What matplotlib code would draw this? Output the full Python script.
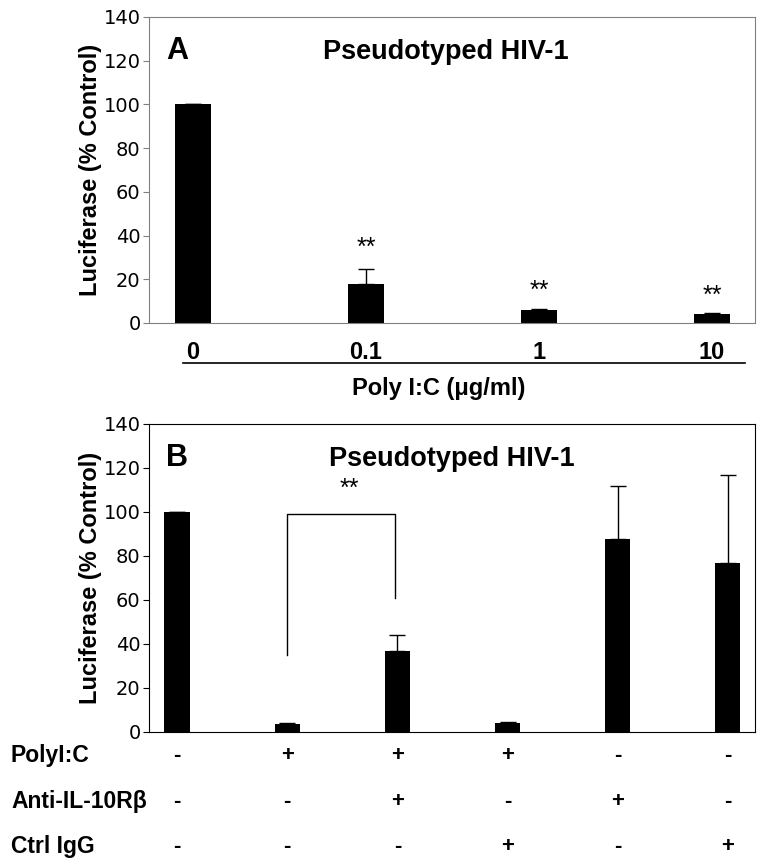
import matplotlib
matplotlib.use("Agg")
import matplotlib.pyplot as plt
from matplotlib.lines import Line2D
import numpy as np

font = 'Liberation Sans'

# Data - panel A
doses = ['0', '0.1', '1', '10']
lucA = [100, 18, 6, 4]
errA = [0, 6.5, 0.6, 0.5]
starsA = [None, 29, 9, 7]

# Data - panel B
lucB = [100, 3.5, 37, 4, 87.5, 77]
errB = [0, 0.6, 7, 0.6, 24.5, 40]
polyic = ['-', '+', '+', '+', '-', '-']
anti_il10 = ['-', '-', '+', '-', '+', '-']
ctrl_igg = ['-', '-', '-', '+', '-', '+']
row_labels = ['PolyI:C', 'Anti-IL-10R\u03b2', 'Ctrl IgG']

fig = plt.figure(figsize=(7.63, 8.65), dpi=100)

# ---------- Panel A ----------
axA = fig.add_axes([0.1953, 0.6266, 0.7942, 0.3538])
xA = np.arange(len(doses))
axA.bar(xA, lucA, width=0.21, color='black', yerr=[np.zeros(len(errA)), errA],
        error_kw=dict(ecolor='black', elinewidth=1, capsize=6, capthick=1))
for x, s in zip(xA, starsA):
    if s is not None:
        axA.text(x, s, '**', ha='center', va='bottom', fontsize=18, family=font)
axA.set_xlim(-0.254, 3.249)
axA.set_ylim(0, 140)
axA.set_yticks(range(0, 141, 20))
axA.set_xticks(xA)
axA.set_xticklabels(doses, fontsize=17, fontweight='bold', family=font)
axA.tick_params(axis='x', length=0, pad=13)
axA.tick_params(axis='y', direction='out', length=4, color='#808080', labelsize=14, pad=2)
for sp in axA.spines.values():
    sp.set_color('#808080')
axA.set_ylabel('Luciferase (% Control)', fontsize=17, fontweight='bold', family=font, labelpad=1)
axA.text(0.028, 0.89, 'A', transform=axA.transAxes, fontsize=22, fontweight='bold',
         family=font, va='center', ha='left')
axA.text(0.49, 0.885, 'Pseudotyped HIV-1', transform=axA.transAxes, fontsize=19.5,
         fontweight='bold', family=font, va='center', ha='center')
fig.add_artist(Line2D([183 / 763, 745 / 763], [1 - 363 / 865, 1 - 363 / 865],
                      color='black', lw=1.2))
fig.text(439 / 763, 1 - 388 / 865, 'Poly I:C (\u03bcg/ml)', ha='center', va='center',
         fontsize=17, fontweight='bold', family=font)

# ---------- Panel B ----------
axB = fig.add_axes([0.1953, 0.1538, 0.7942, 0.3561])
xB = np.arange(len(lucB))
axB.bar(xB, lucB, width=0.227, color='black', yerr=[np.zeros(len(errB)), errB],
        error_kw=dict(ecolor='black', elinewidth=1, capsize=6, capthick=1))
axB.set_xlim(-0.254, 5.245)
axB.set_ylim(0, 140)
axB.set_yticks(range(0, 141, 20))
axB.set_xticks([])
axB.tick_params(axis='y', direction='out', length=4, labelsize=14, pad=2)
axB.set_ylabel('Luciferase (% Control)', fontsize=17, fontweight='bold', family=font, labelpad=1)
axB.text(0.028, 0.89, 'B', transform=axB.transAxes, fontsize=22, fontweight='bold',
         family=font, va='center', ha='left')
axB.text(0.50, 0.885, 'Pseudotyped HIV-1', transform=axB.transAxes, fontsize=19.5,
         fontweight='bold', family=font, va='center', ha='center')

# significance bracket between bar 2 and bar 3
axB.plot([1, 1, 1.98, 1.98], [35, 99, 99, 61], color='black', lw=1)
axB.text(1.56, 105, '**', ha='center', va='bottom', fontsize=18, family=font)

# treatment table under panel B
rows_y = [-0.075, -0.227, -0.373]
for rlab, signs, ry in zip(row_labels, [polyic, anti_il10, ctrl_igg], rows_y):
    fig.text(11 / 763, 0.1538 + ry * 0.3561, rlab, ha='left', va='center',
             fontsize=16.5, fontweight='bold', family=font)
    for x, s in zip(xB, signs):
        axB.text(x, ry, s, transform=axB.get_xaxis_transform(), ha='center',
                 va='center', fontsize=16, fontweight='bold', family=font, clip_on=False)

fig.savefig('out.png', dpi=100)
